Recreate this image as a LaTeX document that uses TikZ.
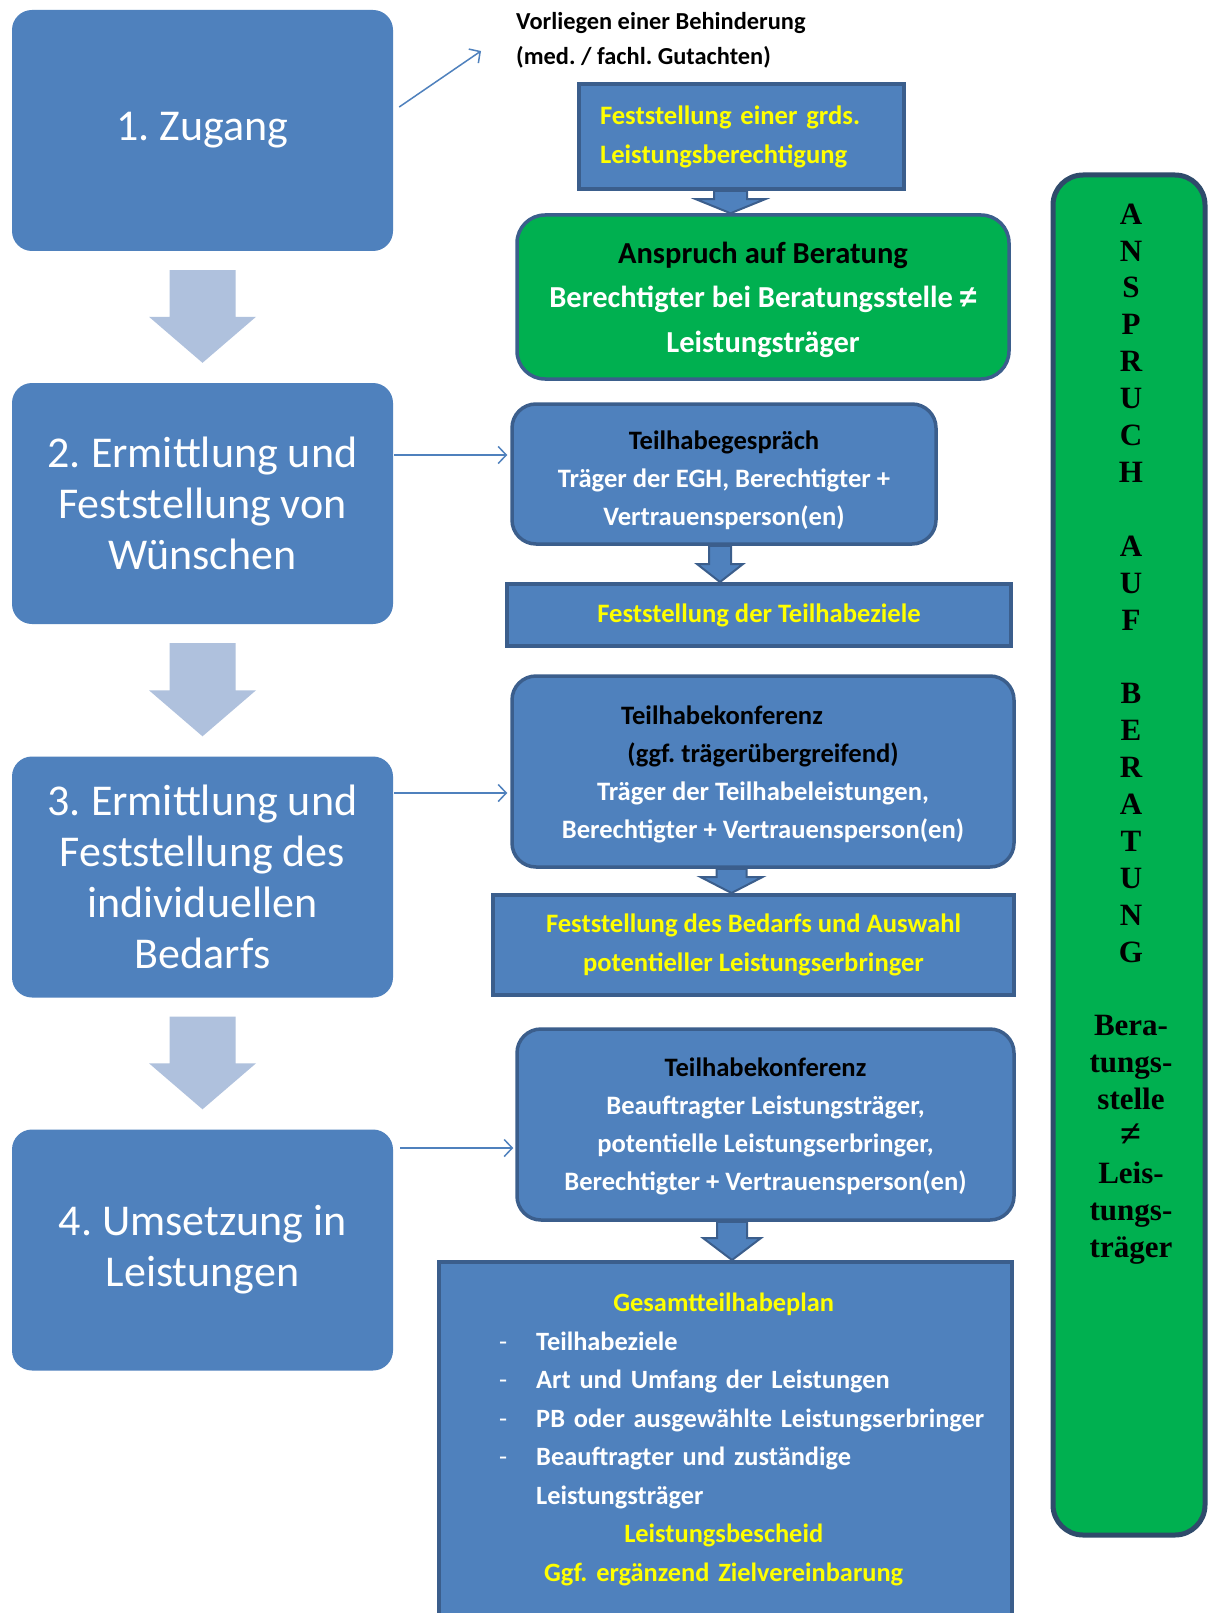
\documentclass[tikz,border=0pt]{standalone}
\usepackage{fontspec}
\setmainfont{Carlito}
\newfontfamily\timesf{Liberation Serif}
\newfontfamily\libsans{Liberation Sans}
\usetikzlibrary{calc,arrows.meta}
\definecolor{boxblue}{HTML}{4F81BD}
\definecolor{borderD}{HTML}{3B5E8C}
\definecolor{barD}{HTML}{2F4B6B}
\definecolor{grn}{HTML}{00B050}
\definecolor{lightarr}{HTML}{AFC1DD}
\definecolor{ylw}{HTML}{FFFF00}
\frenchspacing
\newcommand\bigarrow[2]{\fill[lightarr] let \p1=(#1.south), \p2=(#2.north) in
  (\x1-33pt,\y1-19pt) -- (\x1+33pt,\y1-19pt) -- (\x1+33pt,\y2+66pt) -- (\x1+53.5pt,\y2+66pt)
  -- (\x1,\y2+20pt) -- (\x1-53.5pt,\y2+66pt) -- (\x1-33pt,\y2+66pt) -- cycle;}
\newcommand\smallarr[6]{\filldraw[fill=boxblue, draw=borderD, line width=2pt, line join=miter]
  let \p1=($(#1.south)+(#3,0)$), \p2=(#2.north) in
  (\x1-#4pt,\y1) -- (\x1+#4pt,\y1) -- (\x1+#4pt,\y2+#6pt) -- (\x1+#5pt,\y2+#6pt)
  -- (\x1,\y2) -- (\x1-#5pt,\y2+#6pt) -- (\x1-#4pt,\y2+#6pt) -- cycle;}
\begin{document}
\begin{tikzpicture}[x=1pt,y=-1pt,
  lbox/.style={fill=boxblue, draw=none, rounded corners=20pt, minimum width=381pt,
    minimum height=241pt, text=white, font=\fontsize{44}{51}\selectfont, align=center, inner sep=0pt},
  rbox/.style={fill=boxblue, draw=borderD, line width=3.5pt, rounded corners=24pt, inner sep=0pt,
    align=center, text=white, font=\bfseries\fontsize{26.6}{38}\selectfont},
  fbox/.style={fill=boxblue, draw=borderD, line width=4pt, inner sep=0pt, align=center,
    text=ylw, font=\bfseries\fontsize{26.6}{39}\selectfont},
  thinarr/.style={draw=boxblue, line width=1.5pt, -{Straight Barb[length=8pt,width=17pt]}},
  plain/.style={inner sep=0pt}]
\useasboundingbox (0,0) rectangle (1208,1613);
\clip (0,0) rectangle (1208,1613);
\fill[white] (0,0) rectangle (1208,1613);

% left column
\node[lbox] (b1) at (202.5,130.5) {1. Zugang};
\node[lbox] (b2) at (202.5,503.5) {2. Ermittlung und\\Feststellung von\\Wünschen};
\node[lbox] (b3) at (202.5,877) {3. Ermittlung und\\Feststellung des\\individuellen\\Bedarfs};
\node[lbox] (b4) at (202.5,1250) {4. Umsetzung in\\Leistungen};
\bigarrow{b1}{b2}
\bigarrow{b2}{b3}
\bigarrow{b3}{b4}

% top text
\node[plain, anchor=north west, align=left, font=\bfseries\fontsize{24.4}{35}\selectfont] (vt) at (516,12)
  {Vorliegen einer Behinderung\\(med. / fachl. Gutachten)};

% right column
\node[fbox, minimum width=325pt, minimum height=105pt, text width=283pt, align=left] (fs1) at (741.5,136.5)
  {Feststellung einer grds.\\Leistungsberechtigung};
\node[rbox, fill=grn, rounded corners=28pt, minimum width=492pt, minimum height=164pt,
  font=\bfseries\fontsize{30.5}{44.5}\selectfont] (gr) at (763,297)
  {\rule{0pt}{27pt}{\color{black}Anspruch auf Beratung}\\Berechtigter bei Beratungsstelle {\libsans ≠}\\Leistungsträger};
\node[rbox, minimum width=424pt, minimum height=140pt] (tg) at (724,474)
  {\rule{0pt}{32pt}{\color{black}Teilhabegespräch}\\Träger der EGH, Berechtigter +\\Vertrauensperson(en)};
\node[fbox, minimum width=504pt, minimum height=62pt] (tz) at (759,615) {Feststellung der Teilhabeziele};
\node[rbox, minimum width=502pt, minimum height=191pt] (tk) at (763,771.5)
  {\hspace*{-82pt}\rule{0pt}{25pt}{\color{black}Teilhabekonferenz}\\{\color{black}(ggf. trägerübergreifend)}\\Träger der Teilhabeleistungen,\\Berechtigter + Vertrauensperson(en)};
\node[fbox, minimum width=521pt, minimum height=100pt] (bd) at (753.5,945)
  {Feststellung des Bedarfs und Auswahl\\potentieller Leistungserbringer};
\node[rbox, minimum width=497pt, minimum height=191pt] (tk2) at (765.5,1124.5)
  {\rule{0pt}{23pt}{\color{black}Teilhabekonferenz}\\Beauftragter Leistungsträger,\\potentielle Leistungserbringer,\\Berechtigter + Vertrauensperson(en)};
\node[fbox, minimum width=573pt, minimum height=420pt, anchor=north west] (gp) at (437,1260) {};
\node[plain, anchor=north west, text width=520pt, align=left, text=white,
  font=\bfseries\fontsize{26.4}{38.5}\selectfont] (gpt) at (499,1293)
  {\makebox[449pt]{\color{ylw}Gesamtteilhabeplan}\\
   \makebox[37pt][l]{\mdseries -}Teilhabeziele\\
   \makebox[37pt][l]{\mdseries -}Art und Umfang der Leistungen\\
   \makebox[37pt][l]{\mdseries -}PB oder ausgewählte Leistungserbringer\\
   \makebox[37pt][l]{\mdseries -}Beauftragter und zuständige\\
   \hspace*{37pt}Leistungsträger\\
   \makebox[449pt]{\color{ylw}Leistungsbescheid}\\
   \makebox[449pt]{\color{ylw}Ggf. ergänzend Zielvereinbarung}};

% small block arrows
\smallarr{fs1}{gr}{-11}{16.5}{34.5}{14}
\smallarr{tg}{tz}{-4}{11}{23}{18}
\smallarr{tk}{bd}{-31.5}{15}{31}{16}
\smallarr{tk2}{gp}{-33.5}{15}{29}{22}

% thin arrows
\draw[thinarr] ($(b1.east)+(6,-23.5)$) -- ($(vt.north west)+(-35,39)$);
\draw[thinarr] ($(b2.east)+(1,-48.5)$) coordinate (s2) -- ($(tg.west|-s2)+(-3,0)$);
\draw[thinarr] ($(b3.east)+(1,-84)$) coordinate (s3) -- ($(tk.west|-s3)+(-3,0)$);
\draw[thinarr] ($(b4.east)+(7,-102)$) coordinate (s4) -- ($(tk2.west|-s4)+(-2,0)$);

% right bar
\node[fill=grn, draw=barD, line width=5pt, rounded corners=30pt, minimum width=152pt,
  minimum height=1360pt, inner sep=0pt] (bar) at (1129,855) {};
\node[plain, anchor=north, align=center, font=\timesf\bfseries\fontsize{31}{36.9}\selectfont] (bart)
  at ($(bar.north)+(2,31)$)
  {A\\N\\S\\P\\R\\U\\C\\H\\[36.9pt]A\\U\\F\\[36.9pt]B\\E\\R\\A\\T\\U\\N\\G\\[36.9pt]Bera-\\tungs-\\stelle\\{\fontsize{38}{36.9}\selectfont ≠}\\Leis-\\tungs-\\träger};
\end{tikzpicture}
\end{document}
